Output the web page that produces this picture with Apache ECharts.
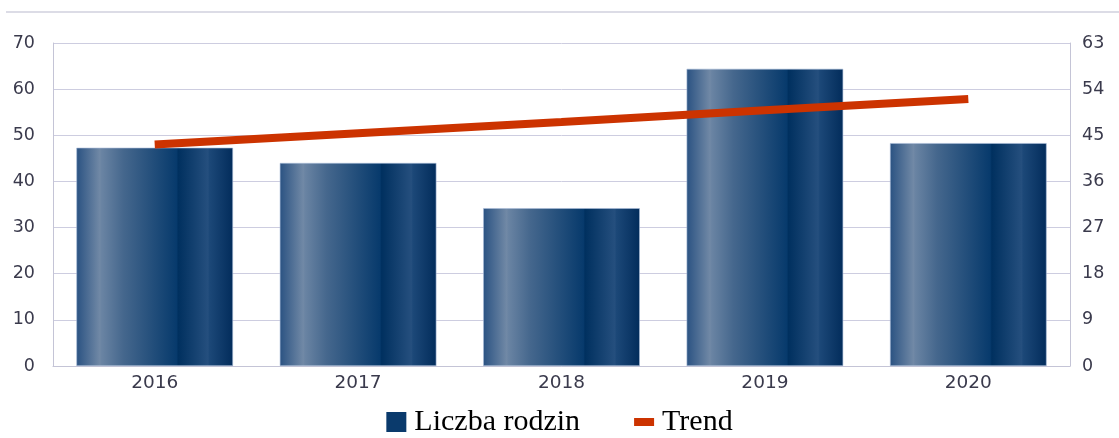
<!DOCTYPE html>
<html><head><meta charset="utf-8">
<script src="https://cdn.jsdelivr.net/npm/echarts@6/dist/echarts.min.js"></script>
<style>html,body{margin:0;padding:0;background:#fff}#c{width:1119px;height:438px}</style>
</head><body><div id="c"></div>
<script>
const categories = ['2016','2017','2018','2019','2020'];
const families = [47.3, 44.0, 34.2, 64.4, 48.3];
const trend = [43.2, 45.4, 47.6, 49.9, 52.1];
const leftTicks = [0, 70, 10];
const rightTicks = [0, 63, 9];

const chart = echarts.init(document.getElementById('c'));
const barGrad = new echarts.graphic.LinearGradient(0,0,1,0,[
  {offset:0, color:'#2a5282'},
  {offset:0.15, color:'#7189a6'},
  {offset:0.16, color:'#6a84a3'},
  {offset:0.30, color:'#45678d'},
  {offset:0.64, color:'#073a6c'},
  {offset:0.65, color:'#00305f'},
  {offset:0.84, color:'#254f7e'},
  {offset:0.85, color:'#1c4878'},
  {offset:1, color:'#022c5b'}
]);
const labelStyle = {color:'#3a3a4c', fontFamily:'DejaVu Sans', fontSize:17.5};
chart.setOption({
  animation:false,
  grid:{left:53, right:49, top:43, bottom:72},
  graphic:[{type:'line', shape:{x1:6,y1:12,x2:1119,y2:12}, style:{stroke:'#dcdce6', lineWidth:2}}],
  legend:{
    bottom:-4, left:'center', itemGap:54, itemWidth:20, itemHeight:20,
    textStyle:{fontFamily:'Liberation Serif', fontSize:30, color:'#000', padding:[0,0,0,3]},
    data:[{name:'Liczba rodzin', icon:'rect', itemStyle:{color:'#0a3a6c', borderWidth:0}},
          {name:'Trend', icon:'path://M0,0h20v8h-20z', itemStyle:{color:'#cc3300', borderWidth:0}}]
  },
  xAxis:{type:'category', data:categories,
    axisLine:{lineStyle:{color:'#c4c4d6', width:1}},
    axisTick:{show:false},
    axisLabel:{color:'#3a3a4c', fontFamily:'DejaVu Sans', fontSize:18.5, margin:8}},
  yAxis:[
    {type:'value', min:leftTicks[0], max:leftTicks[1], interval:leftTicks[2],
     axisLine:{show:true, lineStyle:{color:'#c4c4d6'}}, axisTick:{show:false},
     splitLine:{lineStyle:{color:'#cdcde0', width:1}},
     axisLabel:Object.assign({margin:18}, labelStyle)},
    {type:'value', min:rightTicks[0], max:rightTicks[1], interval:rightTicks[2],
     axisLine:{show:true, lineStyle:{color:'#c4c4d6'}}, axisTick:{show:false},
     splitLine:{show:false},
     axisLabel:Object.assign({margin:12}, labelStyle)}
  ],
  series:[
    {name:'Liczba rodzin', type:'bar', data:families, barWidth:'77%',
     itemStyle:{color:barGrad, borderColor:'#a9bcd8', borderWidth:0.6}},
    {name:'Trend', type:'line', yAxisIndex:1, data:trend, symbol:'none',
     lineStyle:{color:'#cc3300', width:8, cap:'butt'}, itemStyle:{color:'#cc3300'}}
  ]
});
</script></body></html>
